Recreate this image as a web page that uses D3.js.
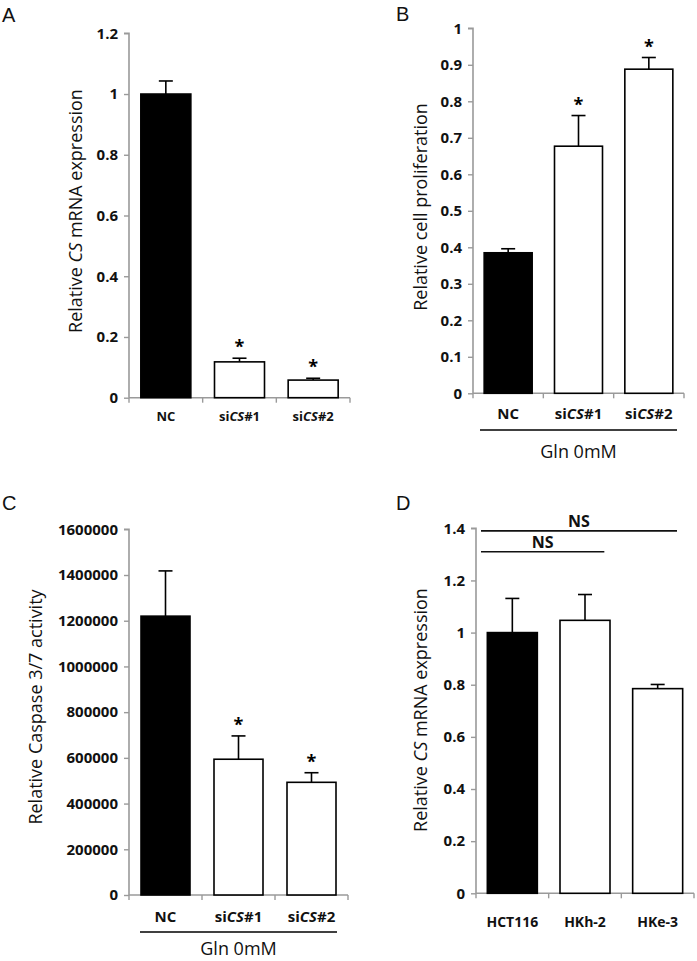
<!DOCTYPE html>
<html>
<head>
<meta charset="utf-8">
<script src="https://cdn.jsdelivr.net/npm/d3@7"></script>
<style>
  html, body { margin: 0; padding: 0; background: #fff; }
  svg { display: block; font-family: "Open Sans", "DejaVu Sans", sans-serif; }
</style>
</head>
<body>
<svg id="chart" width="697" height="961"></svg>
<script>
// ---------- DATA ----------
const catsSi = ["NC", "siCS#1", "siCS#2"];
const catsCell = ["HCT116", "HKh-2", "HKe-3"];

const valuesA = [1.0, 0.118, 0.058];
const errorsA = [0.043, 0.012, 0.006];
const starsA = [false, true, true];
const ticksA = [0, 0.2, 0.4, 0.6, 0.8, 1, 1.2];

const valuesB = [0.385, 0.677, 0.888];
const errorsB = [0.011, 0.084, 0.032];
const starsB = [false, true, true];
const ticksB = [0, 0.1, 0.2, 0.3, 0.4, 0.5, 0.6, 0.7, 0.8, 0.9, 1];

const valuesC = [1220000, 594000, 493000];
const errorsC = [198000, 102000, 42000];
const starsC = [false, true, true];
const ticksC = [0, 200000, 400000, 600000, 800000, 1000000, 1200000, 1400000, 1600000];

const valuesD = [1.0, 1.047, 0.785];
const errorsD = [0.131, 0.099, 0.016];
const starsD = [false, false, false];
const ticksD = [0, 0.2, 0.4, 0.6, 0.8, 1, 1.2, 1.4];

const groupLabel = "Gln 0mM";
// NS brackets in panel D: [from category index, to category index, y value]
const nsBrackets = [[0, 2, 1.39], [0, 1, 1.31]];

// ---------- DRAW ----------
const svg = d3.select("#chart");

function catLabel(sel, c) {
  const m = c.match(/^si(CS)(#\d)$/);
  if (m) {
    sel.append("tspan").text("si");
    sel.append("tspan").attr("font-style", "italic").text(m[1]);
    sel.append("tspan").text(m[2]);
  } else {
    sel.text(c);
  }
}

function panel(cfg) {
  const g = svg.append("g");
  const y = d3.scaleLinear().domain([0, cfg.max]).range([cfg.bottom, cfg.top]);
  const x = d3.scaleBand().domain(cfg.cats).range([cfg.left, cfg.right]).padding(0);
  const bw = cfg.barW;

  // y axis
  const yAxis = d3.axisLeft(y).tickValues(cfg.ticks).tickSize(5).tickPadding(6)
    .tickFormat(d => String(d));
  const ya = g.append("g").attr("transform", `translate(${cfg.left},0)`).call(yAxis);
  ya.select(".domain").attr("stroke", "#9a9a9a").attr("stroke-width", 1.6)
    .attr("d", `M-5,${cfg.top}H0V${cfg.bottom}`);
  ya.selectAll(".tick line").attr("stroke", "#9a9a9a").attr("stroke-width", 1.4);
  ya.selectAll(".tick text").attr("fill", "#111").attr("font-weight", "bold")
    .attr("font-size", cfg.tickFont).attr("font-family", "'Open Sans', sans-serif");

  // x axis line with ticks at band boundaries
  g.append("line").attr("x1", cfg.left).attr("x2", cfg.right)
    .attr("y1", cfg.bottom).attr("y2", cfg.bottom)
    .attr("stroke", "#9a9a9a").attr("stroke-width", 1.6);
  const bounds = cfg.cats.map(c => x(c)).concat([cfg.right]);
  g.selectAll("line.xt").data(bounds).enter().append("line")
    .attr("x1", d => d).attr("x2", d => d)
    .attr("y1", cfg.bottom).attr("y2", cfg.bottom + 5)
    .attr("stroke", "#9a9a9a").attr("stroke-width", 1.4);

  // bars
  const data = cfg.cats.map((c, i) => ({ c, v: cfg.values[i], e: cfg.errors[i], s: cfg.stars[i], i }));
  const cx = d => x(d.c) + x.bandwidth() / 2;
  // error bars
  g.selectAll("line.err").data(data).enter().append("line")
    .attr("x1", cx).attr("x2", cx)
    .attr("y1", d => y(d.v)).attr("y2", d => y(d.v + d.e))
    .attr("stroke", "#000").attr("stroke-width", 1.6);
  g.selectAll("line.cap").data(data).enter().append("line")
    .attr("x1", d => cx(d) - 7).attr("x2", d => cx(d) + 7)
    .attr("y1", d => y(d.v + d.e)).attr("y2", d => y(d.v + d.e))
    .attr("stroke", "#000").attr("stroke-width", 1.6);
  g.selectAll("rect.bar").data(data).enter().append("rect")
    .attr("x", d => cx(d) - bw / 2).attr("width", bw)
    .attr("y", d => y(d.v)).attr("height", d => cfg.bottom - y(d.v))
    .attr("fill", d => d.i === 0 ? "#000" : "#fff")
    .attr("stroke", "#000").attr("stroke-width", 1.6);
  // stars
  g.selectAll("text.star").data(data.filter(d => d.s)).enter().append("text")
    .attr("x", cx).attr("y", d => y(d.v + d.e) - 5)
    .attr("text-anchor", "middle").attr("font-weight", "bold").attr("font-size", 18)
    .text("*");

  // category labels
  data.forEach(d => {
    const t = g.append("text").attr("x", cx(d)).attr("y", cfg.labelY)
      .attr("text-anchor", "middle").attr("font-weight", "bold")
      .attr("font-size", cfg.labelFont).attr("fill", "#111");
    catLabel(t, d.c);
  });

  // group line
  if (cfg.group) {
    g.append("line").attr("x1", cfg.group.x1).attr("x2", cfg.group.x2)
      .attr("y1", cfg.group.y).attr("y2", cfg.group.y)
      .attr("stroke", "#000").attr("stroke-width", 1.6);
    g.append("text").attr("x", (cfg.group.x1 + cfg.group.x2) / 2).attr("y", cfg.group.ty)
      .attr("text-anchor", "middle").attr("font-size", 18).attr("fill", "#111")
      .text(groupLabel);
  }

  // y title
  const tt = g.append("text")
    .attr("transform", `translate(${cfg.titleX},${cfg.titleY}) rotate(-90)`)
    .attr("text-anchor", "middle").attr("dominant-baseline", "central")
    .attr("font-size", cfg.titleFont).attr("fill", "#111");
  cfg.title.forEach(p => tt.append("tspan").attr("font-style", p[1] ? "italic" : null).text(p[0]));

  // panel letter
  g.append("text").attr("x", cfg.letterX).attr("y", cfg.letterY)
    .attr("font-family", "'Liberation Sans', Arial, sans-serif")
    .attr("font-size", 20).attr("fill", "#111").text(cfg.letter);

  return { g, x, y };
}

panel({
  letter: "A", letterX: 2, letterY: 22,
  cats: catsSi, values: valuesA, errors: errorsA, stars: starsA, ticks: ticksA, max: 1.2,
  left: 129, right: 350, top: 33.3, bottom: 397.7, barW: 50,
  tickFont: 15, labelFont: 13, labelY: 421,
  title: [["Relative ", false], ["CS", true], [" mRNA expression", false]],
  titleX: 75, titleY: 211, titleFont: 18
});

panel({
  letter: "B", letterX: 396, letterY: 21,
  cats: catsSi, values: valuesB, errors: errorsB, stars: starsB, ticks: ticksB, max: 1,
  left: 473, right: 684, top: 28.3, bottom: 393.3, barW: 48,
  tickFont: 15, labelFont: 15, labelY: 419,
  group: { x1: 480, x2: 677, y: 430, ty: 458 },
  title: [["Relative cell proliferation", false]],
  titleX: 420, titleY: 207, titleFont: 18
});

panel({
  letter: "C", letterX: 2, letterY: 510,
  cats: catsSi, values: valuesC, errors: errorsC, stars: starsC, ticks: ticksC, max: 1600000,
  left: 129, right: 348, top: 529.3, bottom: 895, barW: 49,
  tickFont: 15, labelFont: 15, labelY: 922,
  group: { x1: 140, x2: 337, y: 932, ty: 955 },
  title: [["Relative Caspase 3/7 activity", false]],
  titleX: 34.5, titleY: 707, titleFont: 18
});

const pD = panel({
  letter: "D", letterX: 396, letterY: 510,
  cats: catsCell, values: valuesD, errors: errorsD, stars: starsD, ticks: ticksD, max: 1.4,
  left: 476, right: 694, top: 528.3, bottom: 893.3, barW: 50,
  tickFont: 15, labelFont: 14, labelY: 927,
  title: [["Relative ", false], ["CS", true], [" mRNA expression", false]],
  titleX: 420, titleY: 710, titleFont: 18
});

// NS brackets
nsBrackets.forEach(b => {
  const bw = pD.x.bandwidth();
  const x1 = pD.x(catsCell[b[0]]) + 5;
  const x2 = pD.x(catsCell[b[1]]) + bw - 17;
  const yy = pD.y(b[2]);
  pD.g.append("line").attr("x1", x1).attr("x2", x2).attr("y1", yy).attr("y2", yy)
    .attr("stroke", "#111").attr("stroke-width", 1.6);
  pD.g.append("text").attr("x", (x1 + x2) / 2).attr("y", yy - 4)
    .attr("text-anchor", "middle").attr("font-weight", "bold").attr("font-size", 16)
    .attr("fill", "#111").text("NS");
});
</script>
</body>
</html>
